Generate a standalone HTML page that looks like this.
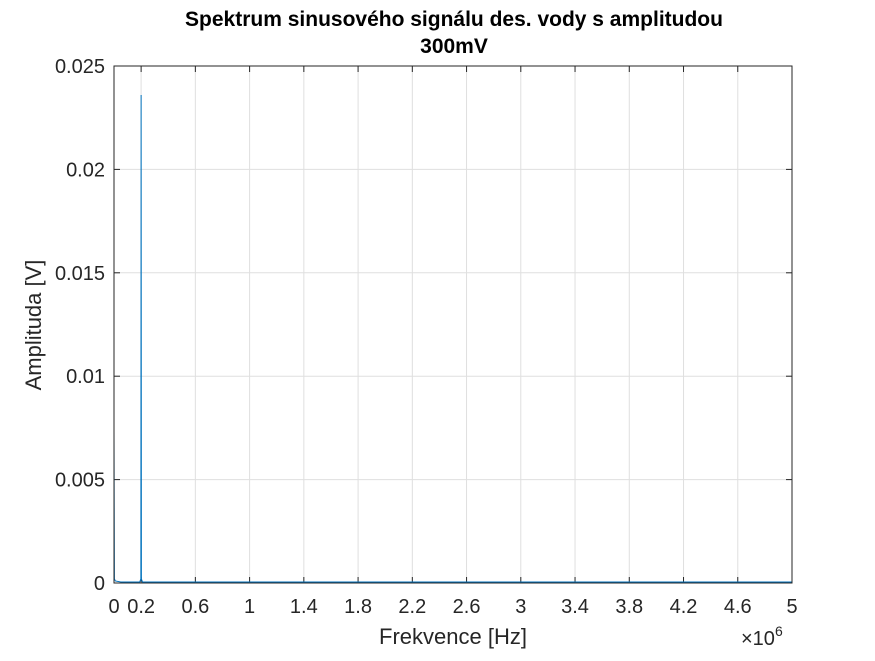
<!DOCTYPE html>
<html><head><meta charset="utf-8"><style>
body{margin:0;background:#fff;}
svg text{font-family:"Liberation Sans",sans-serif;}
</style></head><body>
<svg id="chart" width="875" height="656" xmlns="http://www.w3.org/2000/svg">
<rect width="875" height="656" fill="#fff"/>
<text x="454" y="26" text-anchor="middle" font-size="21" font-weight="bold" fill="#000">Spektrum sinusového signálu des. vody s amplitudou</text>
<text x="454" y="53" text-anchor="middle" font-size="21" font-weight="bold" fill="#000">300mV</text>
<g id="grid"></g>
<g id="ticks"></g>
<path id="series" fill="none" stroke="#0072BD" stroke-width="1"/>
<rect x="114" y="66" width="678" height="517" fill="none" stroke="#262626" stroke-width="1"/>
<text x="453" y="644" text-anchor="middle" font-size="22" fill="#262626">Frekvence [Hz]</text>
<text transform="translate(41,325) rotate(-90)" text-anchor="middle" font-size="22" fill="#262626">Amplituda [V]</text>
<text x="741" y="645" font-size="20" fill="#262626">×10<tspan font-size="14" dy="-9">6</tspan></text>
</svg>
<script>
const xTicks=[0,0.2,0.6,1,1.4,1.8,2.2,2.6,3,3.4,3.8,4.2,4.6,5];
const xTickLabels=["0","0.2","0.6","1","1.4","1.8","2.2","2.6","3","3.4","3.8","4.2","4.6","5"];
const yTicks=[0,0.005,0.01,0.015,0.02,0.025];
const yTickLabels=["0","0.005","0.01","0.015","0.02","0.025"];
const freqMHz=[0,0.003,0.01,0.05,0.1,0.19,0.198,0.2,0.202,0.21,0.4,0.6,1,2,3,4,5];
const amplitude=[0.0074,0.0002,0.0001,0.00005,0.00005,0.00005,0.0002,0.0236,0.0002,0.00005,0.00005,0.00005,0.00005,0.00005,0.00005,0.00005,0.00005];
const L=114,R=792,T=66,B=583;
const xs=v=>L+(v-0)/(5-0)*(R-L);
const ys=v=>B-(v/0.025)*(B-T);
const NS="http://www.w3.org/2000/svg";
const grid=document.getElementById('grid'),ticks=document.getElementById('ticks');
function mk(tag,attrs,parent){const e=document.createElementNS(NS,tag);for(const k in attrs)e.setAttribute(k,attrs[k]);parent.appendChild(e);return e;}
xTicks.forEach((v,i)=>{
  const x=xs(v);
  const g=mk('line',{x1:x,x2:x,y1:T,y2:B,stroke:'#dfdfdf','stroke-width':1},grid);
  
  
  mk('line',{x1:x,x2:x,y1:B,y2:B-6,stroke:'#262626'},ticks);
  mk('line',{x1:x,x2:x,y1:T,y2:T+6,stroke:'#262626'},ticks);
  const t=mk('text',{x:x,y:613,'text-anchor':'middle','font-size':20,fill:'#262626'},ticks);
  t.textContent=xTickLabels[i];
  
  
});
yTicks.forEach((v,i)=>{
  const y=ys(v);
  const g=mk('line',{x1:L,x2:R,y1:y,y2:y,stroke:'#dfdfdf','stroke-width':1},grid);
  
  
  mk('line',{x1:L,x2:L+6,y1:y,y2:y,stroke:'#262626'},ticks);
  mk('line',{x1:R,x2:R-6,y1:y,y2:y,stroke:'#262626'},ticks);
  const t=mk('text',{x:105,y:y+7,'text-anchor':'end','font-size':20,fill:'#262626'},ticks);
  t.textContent=yTickLabels[i];
  
  
});
document.getElementById('series').setAttribute('d',freqMHz.map((f,i)=>(i?'L':'M')+xs(f).toFixed(2)+','+ys(amplitude[i]).toFixed(2)).join(' '));
</script>
</body></html>
